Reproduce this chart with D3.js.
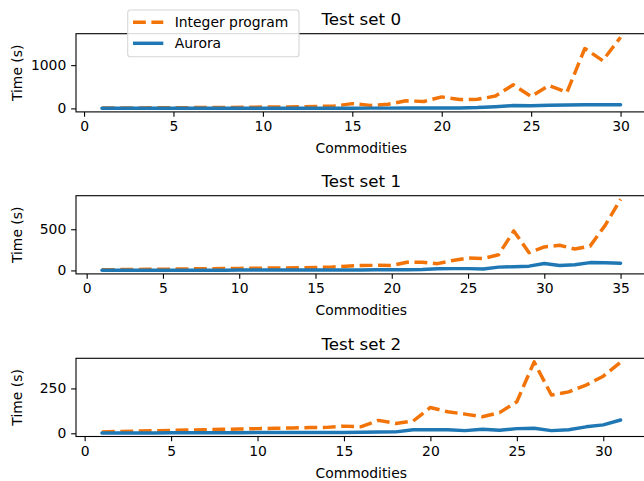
<!DOCTYPE html>
<html>
<head>
<meta charset="utf-8">
<script src="https://cdn.jsdelivr.net/npm/d3@7"></script>
<style>
	body { margin: 0; background: white; }
	svg { display: block; font-family: "DejaVu Sans", sans-serif; }
</style>
</head>
<body>
<svg id="fig" width="644" height="481"></svg>
<script>
// Integer program vs Aurora solve times, one array per test set
var ipTimes0 = [8, 10, 12, 14, 16, 18, 20, 23, 26, 30, 34, 38, 45, 55, 110, 70, 95, 175, 160, 265,
	205, 210, 285, 545, 275, 530, 370, 1385, 1105, 1645];
var auroraTimes0 = [1, 1, 1, 1, 2, 2, 2, 2, 3, 3, 3, 4, 4, 5, 5, 6, 6, 7, 8, 9,
	10, 20, 40, 65, 60, 75, 78, 82, 84, 85];

var ipTimes1 = [8, 10, 12, 13, 15, 17, 19, 21, 23, 25, 27, 29, 31, 33, 36, 40, 52, 60, 62, 60,
	100, 100, 82, 120, 150, 145, 190, 480, 215, 285, 305, 260, 295, 550, 864];
var auroraTimes1 = [1, 1, 2, 2, 2, 3, 3, 3, 3, 4, 4, 4, 5, 5, 5, 6, 6, 6, 7, 7,
	8, 10, 20, 22, 22, 18, 40, 45, 52, 85, 60, 70, 95, 92, 88];

var ipTimes2 = [8, 10, 12, 14, 16, 18, 20, 22, 24, 26, 28, 30, 32, 33, 40, 37, 72, 55, 68, 144,
	120, 107, 92, 115, 176, 398, 213, 231, 268, 318, 396];
var auroraTimes2 = [2, 2, 2, 2, 3, 3, 3, 3, 3, 4, 4, 4, 5, 5, 5, 6, 7, 8, 20, 20,
	20, 15, 22, 17, 26, 28, 15, 20, 36, 47, 74];

var titles = ['Test set 0', 'Test set 1', 'Test set 2'];
var xTicks = [[0, 5, 10, 15, 20, 25, 30], [0, 5, 10, 15, 20, 25, 30, 35], [0, 5, 10, 15, 20, 25, 30]];
var yTicks = [[0, 1000], [0, 500], [0, 250]];
var seriesNames = ['Integer program', 'Aurora'];

var ipColor = '#f27409';
var auroraColor = '#1f77b4';
var lineW = 3.47;
var dashPat = '12.85,5.56';
var tickLen = 4.86;
var fontPx = 13.9;

var svg = d3.select('#fig');
var axLeft = 76, axRight = 646.5, axHeight = 78.2;
var axTops = [33.7, 195.7, 358.3];

// matplotlib style 5% margins around the data
var padded = function(lo, hi) {
	var r = hi - lo;
	return [lo - 0.05 * r, hi + 0.05 * r];
}

var drawPanel = function(idx, ip, aurora) {
	var top = axTops[idx];
	var bottom = top + axHeight;
	var xs = ip.map((d, i) => i + 1);
	var allVals = ip.concat(aurora);

	var x = d3.scaleLinear()
		.domain(padded(1, xs.length))
		.range([axLeft, axRight]);
	var y = d3.scaleLinear()
		.domain(padded(d3.min(allVals), d3.max(allVals)))
		.range([bottom, top]);

	var g = svg.append('g').attr('class', 'panel-' + idx);

	var line = d3.line()
		.x((d, i) => x(i + 1))
		.y(d => y(d));

	g.append('path')
		.datum(ip)
		.attr('d', line)
		.attr('fill', 'none')
		.attr('stroke', ipColor)
		.attr('stroke-width', lineW)
		.attr('stroke-dasharray', dashPat)
		.attr('stroke-linejoin', 'round');

	g.append('path')
		.datum(aurora)
		.attr('d', line)
		.attr('fill', 'none')
		.attr('stroke', auroraColor)
		.attr('stroke-width', lineW)
		.attr('stroke-linejoin', 'round')
		.attr('stroke-linecap', 'round');

	// axes
	var xAxis = g.append('g')
		.attr('transform', 'translate(0,' + bottom + ')')
		.call(d3.axisBottom(x).tickValues(xTicks[idx]).tickFormat(d3.format('d'))
			.tickSize(tickLen).tickPadding(tickLen).tickSizeOuter(0));
	var yAxis = g.append('g')
		.attr('transform', 'translate(' + axLeft + ',0)')
		.call(d3.axisLeft(y).tickValues(yTicks[idx]).tickFormat(d3.format('d'))
			.tickSize(tickLen).tickPadding(tickLen).tickSizeOuter(0));

	[xAxis, yAxis].forEach(a => {
		a.select('.domain').remove();
		a.selectAll('line').attr('stroke', 'black').attr('stroke-width', 1.1);
		a.selectAll('text')
			.attr('fill', 'black')
			.attr('font-size', fontPx)
			.attr('font-family', 'DejaVu Sans');
	});

	// spines
	g.append('rect')
		.attr('x', axLeft)
		.attr('y', top)
		.attr('width', axRight - axLeft)
		.attr('height', axHeight)
		.attr('fill', 'none')
		.attr('stroke', 'black')
		.attr('stroke-width', 1.1);

	g.append('text')
		.text(titles[idx])
		.attr('x', (axLeft + axRight) / 2)
		.attr('y', top - 8.3)
		.attr('text-anchor', 'middle')
		.attr('font-size', 16.7);

	g.append('text')
		.text('Commodities')
		.attr('x', (axLeft + axRight) / 2)
		.attr('y', bottom + 41)
		.attr('text-anchor', 'middle')
		.attr('font-size', fontPx);

	g.append('text')
		.text('Time (s)')
		.attr('transform', 'translate(21.5,' + (top + axHeight / 2) + ') rotate(-90)')
		.attr('text-anchor', 'middle')
		.attr('font-size', fontPx);
}

drawPanel(0, ipTimes0, auroraTimes0);
drawPanel(1, ipTimes1, auroraTimes1);
drawPanel(2, ipTimes2, auroraTimes2);

// legend sits over the first panel, upper left
var leg = svg.append('g').attr('class', 'legend');
leg.append('rect')
	.attr('x', 127.7)
	.attr('y', 10)
	.attr('width', 171.3)
	.attr('height', 46.7)
	.attr('rx', 2.8)
	.attr('fill', 'white')
	.attr('fill-opacity', 0.85)
	.attr('stroke', '#d6d6d6')
	.attr('stroke-width', 1.1);

var legRows = [22.3, 43.3];
seriesNames.forEach((name, i) => {
	var item = leg.append('line')
		.attr('x1', 133)
		.attr('x2', 163.3)
		.attr('y1', legRows[i])
		.attr('y2', legRows[i])
		.attr('stroke', i == 0 ? ipColor : auroraColor)
		.attr('stroke-width', lineW);
	if (i == 0) item.attr('stroke-dasharray', dashPat);
	leg.append('text')
		.text(name)
		.attr('x', 174.7)
		.attr('y', legRows[i])
		.attr('dy', '0.36em')
		.attr('font-size', fontPx);
});
</script>
</body>
</html>
